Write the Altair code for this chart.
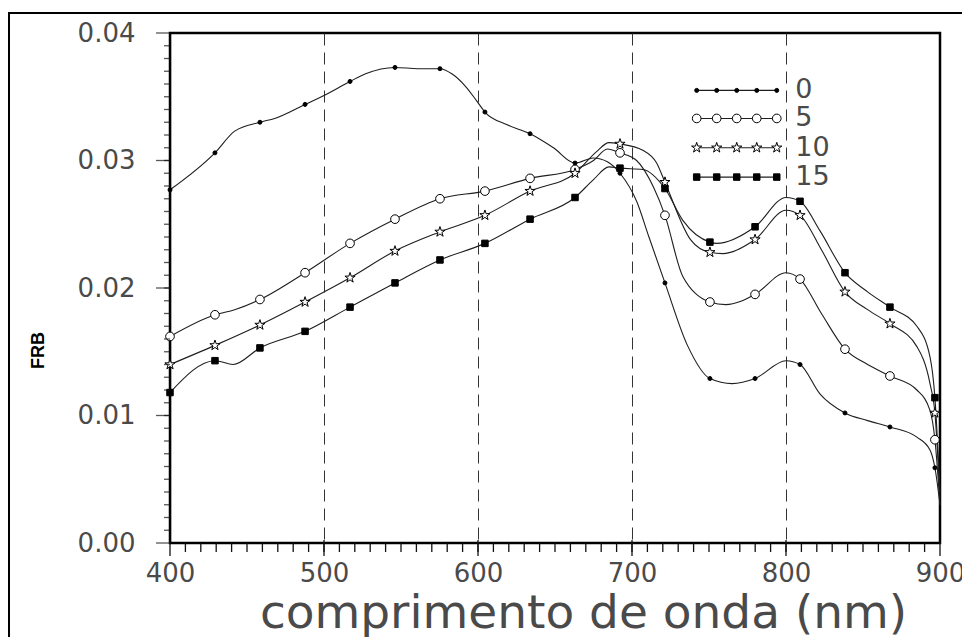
import altair as alt
import pandas as pd

# Series (days) shown in the figure
SERIES = ["0", "5", "10", "15"]

# Wavelengths (nm) at which the plotting symbols sit
MARK_NM = [400.0, 429.2, 458.4, 487.7, 516.9, 546.1, 575.3, 604.5, 633.8, 663.0,
           692.2, 721.4, 750.6, 779.9, 809.1, 838.3, 867.5, 896.7]

# FRB at the symbol positions
frb0_marks = [0.0277, 0.0306, 0.0330, 0.0344, 0.0362, 0.0373, 0.0372, 0.0338, 0.0321,
              0.0298, 0.0290, 0.0204, 0.0129, 0.0129, 0.0140, 0.0102, 0.0091, 0.0059]
frb5_marks = [0.0162, 0.0179, 0.0191, 0.0212, 0.0235, 0.0254, 0.0270, 0.0276, 0.0286,
              0.0293, 0.0306, 0.0257, 0.0189, 0.0195, 0.0207, 0.0152, 0.0131, 0.0081]
frb10_marks = [0.0140, 0.0155, 0.0171, 0.0189, 0.0208, 0.0229, 0.0244, 0.0257, 0.0276,
               0.0290, 0.0313, 0.0283, 0.0228, 0.0238, 0.0257, 0.0197, 0.0172, 0.0102]
frb15_marks = [0.0118, 0.0143, 0.0153, 0.0166, 0.0185, 0.0204, 0.0222, 0.0235, 0.0254,
               0.0271, 0.0294, 0.0278, 0.0236, 0.0248, 0.0268, 0.0212, 0.0185, 0.0114]

# Additional points along each curve between the symbols
frb0_extra_nm = [442, 468, 500, 527, 561, 583, 592, 599, 619, 649, 675, 684, 703, 711,
                 736, 765, 800, 822, 853, 885, 893.5, 900]
frb0_extra = [0.0323, 0.0333, 0.0351, 0.0368, 0.0372, 0.0368, 0.0358, 0.0347, 0.0328,
              0.0310, 0.0302, 0.0299, 0.0268, 0.0240, 0.0155, 0.0125, 0.0143, 0.0117,
              0.0096, 0.0083, 0.0073, 0.0030]
frb5_extra_nm = [442, 675, 684, 703, 714, 733, 761, 800, 823, 853, 885, 893.5, 900]
frb5_extra = [0.0183, 0.0300, 0.0309, 0.0300, 0.0279, 0.0209, 0.0187, 0.0212, 0.0180,
              0.0140, 0.0120, 0.0104, 0.0030]
frb10_extra_nm = [677, 685, 707, 716, 738, 759, 800, 823, 853, 885, 893.5, 900]
frb10_extra = [0.0307, 0.0314, 0.0308, 0.0298, 0.0238, 0.0227, 0.0261, 0.0230, 0.0183,
               0.0154, 0.0125, 0.0035]
frb15_extra_nm = [441, 675, 685, 707, 733, 755, 800, 822, 853, 885, 893.5, 900]
frb15_extra = [0.0140, 0.0285, 0.0295, 0.0293, 0.0253, 0.0235, 0.0271, 0.0245, 0.0197,
               0.0170, 0.0146, 0.0040]

# Axis tick positions
X_MINOR = list(range(410, 900, 10))
X_MAJOR = list(range(400, 901, 100))
Y_MINOR = [i / 1000 for i in range(1, 40)]
Y_MAJOR = [0.0, 0.01, 0.02, 0.03, 0.04]

marks_by_series = [frb0_marks, frb5_marks, frb10_marks, frb15_marks]
extra_nm_by_series = [frb0_extra_nm, frb5_extra_nm, frb10_extra_nm, frb15_extra_nm]
extra_by_series = [frb0_extra, frb5_extra, frb10_extra, frb15_extra]

mark_rows, curve_rows = [], []
for s, mv, enm, ev in zip(SERIES, marks_by_series, extra_nm_by_series, extra_by_series):
    for w, v in zip(MARK_NM, mv):
        mark_rows.append({"series": s, "nm": w, "frb": v})
        curve_rows.append({"series": s, "nm": w, "frb": v})
    for w, v in zip(enm, ev):
        curve_rows.append({"series": s, "nm": w, "frb": v})
marks_df = pd.DataFrame(mark_rows)
curve_df = pd.DataFrame(curve_rows).sort_values(["series", "nm"]).reset_index(drop=True)

# Key placed inside the plot (data coordinates)
KEY_X0, KEY_X1, KEY_LABEL_X = 742.0, 794.0, 806.0
KEY_ROWS = [0.0355, 0.0333, 0.0310, 0.0287]
key_lines = pd.DataFrame({"series": SERIES, "nm": [KEY_X0] * 4, "nm2": [KEY_X1] * 4,
                          "frb": KEY_ROWS})
key_pts = pd.DataFrame([
    {"series": s, "nm": KEY_X0 + i * (KEY_X1 - KEY_X0) / 4, "frb": r}
    for s, r in zip(SERIES, KEY_ROWS) for i in range(5)
])
key_text = pd.DataFrame({"series": SERIES, "nm": [KEY_LABEL_X] * 4, "frb": KEY_ROWS})

FONT = "DejaVu Sans"
GREY = "#4a4a4a"
PLOT_W, PLOT_H = 770, 510

x_scale = alt.Scale(domain=[400, 900], nice=False, zero=False)
y_scale = alt.Scale(domain=[0, 0.04], nice=False, zero=True)

x_axis = alt.Axis(
    orient="bottom", values=X_MAJOR, format="d", ticks=False,
    domainColor="black", domainWidth=1.2,
    grid=True, gridColor="#333", gridWidth=1, gridDash=[12, 7],
    gridOpacity={"condition": {"test": "datum.value > 400 && datum.value < 900",
                               "value": 1}, "value": 0},
    labelFont=FONT, labelFontSize=26, labelColor=GREY,
    labelPadding=17, labelFlush=False, labelOverlap=False,
    title="comprimento de onda (nm)", titleFont=FONT, titleFontSize=47,
    titleFontWeight="normal", titleColor=GREY, titleX=413, titleY=84,
    titleAlign="center", titleBaseline="alphabetic",
)
y_axis = alt.Axis(
    orient="left", values=Y_MAJOR, format=".2f", ticks=False,
    domainColor="black", domainWidth=1.2, grid=False,
    labelFont=FONT, labelFontSize=26, labelColor=GREY,
    labelPadding=35, labelFlush=False, labelOverlap=False,
    title="FRB", titleFont="Liberation Sans", titleFontSize=18, titleFontWeight="bold",
    titleColor="black", titleX=-132, titleY=317, titleAngle=-90,
    titleAlign="center", titleBaseline="middle",
)


def xe(field="nm"):
    return alt.X(f"{field}:Q", scale=x_scale, axis=x_axis)


def ye(field="frb"):
    return alt.Y(f"{field}:Q", scale=y_scale, axis=y_axis)


STAR = ("M0,-1L0.2245,-0.309L0.951,-0.309L0.3633,0.118L0.5878,0.809L0,0.382"
        "L-0.5878,0.809L-0.3633,0.118L-0.951,-0.309L-0.2245,-0.309Z")
# symbol style per series: (shape, fill, size)
SYMBOLS = {
    "0": ("circle", "black", 16),
    "5": ("circle", "white", 75),
    "10": (STAR, "white", 115),
    "15": ("square", "black", 42),
}

# Tick marks drawn outward from the bottom and left edges
TICK_COLOR = "#111111"
x_minor = alt.Chart(pd.DataFrame({"nm": X_MINOR})).mark_rule(
    color=TICK_COLOR, strokeWidth=1.3
).encode(x=xe(), y=alt.value(PLOT_H), y2=alt.value(PLOT_H + 9))
x_major = alt.Chart(pd.DataFrame({"nm": X_MAJOR})).mark_rule(
    color=TICK_COLOR, strokeWidth=1.3
).encode(x=xe(), y=alt.value(PLOT_H - 3), y2=alt.value(PLOT_H + 13))
y_minor = alt.Chart(pd.DataFrame({"frb": Y_MINOR})).mark_tick(
    color=TICK_COLOR, thickness=1.3, size=6, orient="horizontal", xOffset=-3
).encode(y=ye(), x=alt.value(0))
y_major = alt.Chart(pd.DataFrame({"frb": Y_MAJOR})).mark_tick(
    color=TICK_COLOR, thickness=1.3, size=14, orient="horizontal", xOffset=-7
).encode(y=ye(), x=alt.value(0))

curves = alt.Chart(curve_df).mark_line(
    interpolate="monotone", color="#1e1e1e", strokeWidth=1.1
).encode(x=xe(), y=ye(), detail="series:N", order="nm:Q")

key_rule = alt.Chart(key_lines).mark_rule(color="#1e1e1e", strokeWidth=1.1).encode(
    x=xe(), x2="nm2:Q", y=ye()
)

symbol_layers = []
for s in SERIES:
    shape, fill, size = SYMBOLS[s]
    for df in (marks_df, key_pts):
        symbol_layers.append(
            alt.Chart(df).transform_filter(alt.datum.series == s).mark_point(
                shape=shape, filled=True, fill=fill, stroke="black", strokeWidth=1,
                size=size, opacity=1
            ).encode(x=xe(), y=ye())
        )

key_lab = alt.Chart(key_text).mark_text(
    align="left", baseline="middle", font=FONT, fontSize=27, color=GREY
).encode(x=xe(), y=ye(), text="series:N")

# Page frame around the whole figure
frame = alt.Chart(pd.DataFrame({"f": [0]})).mark_rect(
    fill="transparent", stroke="black", strokeWidth=2
).encode(x=alt.value(-161), x2=alt.value(830), y=alt.value(-20), y2=alt.value(640))

chart = alt.layer(
    frame, curves, key_rule, *symbol_layers, key_lab, x_minor, x_major, y_minor, y_major
).properties(
    width=PLOT_W, height=PLOT_H,
    autosize=alt.AutoSizeParams(type="none"),
    padding={"left": 170, "top": 33, "right": 22, "bottom": 94},
    background="white",
).configure_view(stroke="black", strokeWidth=2.5)

chart.save("out.html", embed_options={"renderer": "svg", "actions": False})
